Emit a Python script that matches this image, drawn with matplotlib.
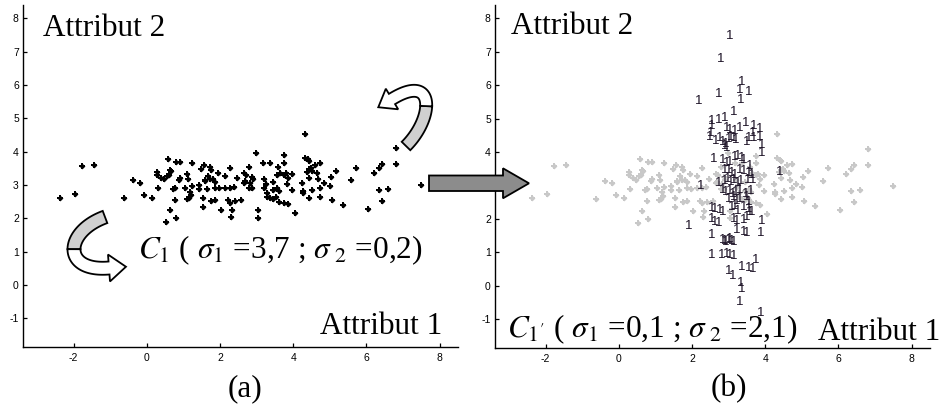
import numpy as np
import matplotlib
matplotlib.use("Agg")
import matplotlib.pyplot as plt
from matplotlib.patches import Polygon
from matplotlib.transforms import IdentityTransform

plt.rcParams['axes.unicode_minus'] = False
plt.rcParams['mathtext.fontset'] = 'stix'
plt.rcParams['font.family'] = ['Liberation Sans', 'DejaVu Sans']

# ====== dados: classe C1 (a) ======
x_c1 = [-2.38, -1.97, -1.77, -1.43, -0.62, -0.38, -0.18, -0.07, 0.14,
        0.28, 0.28, 0.31, 0.40, 0.46, 0.52, 0.55, 0.58, 0.61, 0.64, 0.64, 0.66, 0.71, 0.78, 0.78, 0.80, 0.81, 0.87, 0.90, 0.92,
        1.05, 1.10, 1.10, 1.13, 1.14, 1.19, 1.22, 1.23, 1.23, 1.42, 1.42, 1.49, 1.54, 1.54, 1.55, 1.58, 1.60, 1.64, 1.67, 1.73,
        1.73, 1.76, 1.76, 1.81, 1.87, 1.87, 1.87, 1.95, 1.96,
        2.04, 2.13, 2.15, 2.23, 2.26, 2.26, 2.28, 2.31, 2.33, 2.39, 2.40, 2.46, 2.57, 2.65, 2.65, 2.69, 2.72, 2.78, 2.80, 2.83,
        2.87, 2.87, 2.90, 2.99,
        3.04, 3.04, 3.17, 3.19, 3.19, 3.27, 3.28, 3.28, 3.36, 3.37, 3.46, 3.46, 3.46, 3.54, 3.56, 3.56, 3.58, 3.60, 3.60, 3.63,
        3.74, 3.76, 3.76, 3.76, 3.81, 3.83, 3.85, 3.86, 3.97, 3.98,
        4.06, 4.24, 4.26, 4.28, 4.33, 4.33, 4.38, 4.39, 4.42, 4.42, 4.42, 4.42, 4.49, 4.51, 4.51, 4.60, 4.65, 4.67, 4.72, 4.74,
        4.74, 4.83,
        5.01, 5.04, 5.06, 5.18, 5.36, 5.59, 5.72, 6.03, 6.20, 6.33, 6.35, 6.43, 6.43, 6.59, 6.82, 6.82, 7.50]
y_c1 = [2.62, 2.74, 3.58, 3.61, 2.61, 3.15, 3.07, 2.71, 2.62,
        3.40, 3.30, 2.91, 3.22, 3.17, 1.89, 3.27, 3.78, 3.30, 3.45, 2.25, 3.42, 2.87, 2.90, 2.55, 2.01, 3.69, 3.15, 3.70, 3.20,
        2.92, 3.32, 2.57, 3.17, 2.60, 2.80, 2.70, 2.97, 3.67, 3.00, 2.87, 3.48, 2.62, 2.35, 3.61, 3.15, 3.12, 2.87, 3.27, 3.55,
        3.17, 3.45, 2.52, 3.17, 3.10, 2.92, 2.55, 3.35, 2.90,
        2.25, 2.92, 3.27, 2.55, 2.92, 2.47, 3.52, 2.05, 2.25, 2.95, 2.52, 3.20, 2.55, 3.35, 3.07, 3.12, 3.30, 2.90, 3.55, 3.05,
        3.25, 2.90, 3.17, 3.97,
        2.25, 2.02, 3.67, 3.17, 2.92, 3.03, 2.77, 2.65, 2.60, 3.67, 3.10, 2.85, 2.57, 2.63, 3.30, 2.90, 3.55, 2.82, 2.50, 3.37,
        3.89, 3.67, 3.30, 2.47, 3.35, 3.02, 3.20, 2.43, 2.85, 3.32,
        2.15, 3.05, 2.75, 2.82, 4.54, 3.82, 3.40, 3.77, 3.73, 3.47, 3.22, 2.60, 3.50, 3.43, 2.85, 3.60, 3.37, 3.17, 3.65, 2.92,
        2.65, 3.05,
        2.97, 3.25, 2.55, 3.43, 2.40, 3.15, 3.52, 2.28, 3.35, 3.50, 2.85, 3.62, 2.52, 2.88, 4.10, 3.62, 3.00]

# ====== dados: classe C1' (b) ======
x_c1p = [3.02, 2.78, 2.19, 2.74, 3.36, 3.29, 3.56, 3.34, 3.13,
         2.55, 2.74, 2.90, 2.53, 2.51, 2.49, 2.94, 3.02, 3.17, 3.29, 3.47, 3.69, 3.86, 3.66, 3.86, 3.90, 3.90,
         2.65, 2.76, 2.85, 2.88, 2.93, 2.96, 3.00, 3.05, 3.14, 3.20, 3.49, 3.54, 3.69,
         2.58, 2.85, 2.95, 3.04, 3.17, 3.26, 3.36, 3.40, 3.58, 4.40,
         2.90, 2.99, 3.08, 3.17, 3.31, 3.40, 3.54, 3.63,
         2.88, 2.97, 3.06, 3.15, 3.24, 3.33, 3.52, 3.66,
         2.23, 2.72, 2.84, 2.93, 3.02, 3.11, 3.20, 3.29, 3.47, 3.61,
         2.99, 3.13, 3.22, 3.31, 3.49, 3.54,
         3.08, 3.17, 3.26, 3.40, 3.54, 3.63,
         2.53, 2.62, 2.76, 2.84, 3.58,
         2.53, 2.62, 2.73, 3.13, 3.23, 3.40, 3.49, 3.90,
         1.90, 3.22, 3.40, 3.49, 3.88, 2.53,
         2.83, 2.88, 2.93, 2.99, 3.04, 3.08, 3.13,
         2.53, 2.81, 2.95, 3.02, 3.13, 3.75,
         3.36, 3.54, 3.66, 2.99, 3.11,
         3.33, 3.36, 3.29, 3.87]
y_c1p = [7.47, 6.77, 5.52, 5.75, 6.09, 5.87, 5.79, 5.57, 5.19,
         4.92, 4.97, 5.02, 4.77, 4.57, 4.44, 4.72, 4.67, 4.62, 4.72, 4.87, 4.77, 4.69, 4.56, 4.46, 4.22, 3.97,
         4.32, 4.42, 4.30, 4.18, 4.25, 4.12, 4.38, 4.45, 4.41, 4.36, 4.30, 4.41, 4.41,
         3.78, 3.76, 3.66, 3.71, 3.86, 3.88, 3.81, 3.76, 3.57, 3.40,
         3.47, 3.47, 3.37, 3.32, 3.47, 3.42, 3.37, 3.32,
         3.15, 3.20, 3.12, 3.17, 3.08, 3.13, 3.18, 3.17,
         3.00, 3.07, 2.88, 2.80, 2.85, 2.76, 2.82, 2.86, 2.76, 2.83,
         2.60, 2.65, 2.55, 2.60, 2.65, 2.50,
         2.35, 2.40, 2.25, 2.35, 2.30, 2.20,
         2.32, 2.29, 2.27, 2.22, 2.22,
         2.00, 1.90, 1.87, 2.00, 1.94, 1.97, 2.07, 1.94,
         1.78, 1.67, 1.62, 1.57, 1.57, 1.52,
         1.36, 1.33, 1.30, 1.36, 1.40, 1.34, 1.30,
         0.93, 0.91, 0.96, 0.93, 0.89, 0.77,
         0.57, 0.52, 0.50, 0.45, 0.30,
         0.08, -0.10, -0.48, -0.82]

xticks = [-2, 0, 2, 4, 6, 8]
yticks = [-1, 0, 1, 2, 3, 4, 5, 6, 7, 8]
label_a = r"$C_1$ ( $\sigma_1$ =3,7 ; $\sigma_{\ 2}$ =0,2)"
label_b = r"$C_{1'}$ ( $\sigma_1$ =0,1 ; $\sigma_{\ 2}$ =2,1)"

# ====== figura ======
W, H = 940, 408
fig = plt.figure(figsize=(W / 100, H / 100), dpi=100)
ax_a = fig.add_axes([23 / W, 1 - 347 / H, 435 / W, 342 / H])
ax_b = fig.add_axes([495 / W, 1 - 348 / H, 435 / W, 343 / H])

for ax in (ax_a, ax_b):
    ax.set_xlim(-3.38, 8.5)
    ax.set_ylim(-1.86, 8.4)
    ax.set_xticks(xticks)
    ax.set_yticks(yticks)
    for s in ("top", "right"):
        ax.spines[s].set_visible(False)
    for s in ("left", "bottom"):
        ax.spines[s].set_linewidth(1.0)
    ax.tick_params(direction="in", length=3, width=0.9, labelsize=7.5)
    ax.tick_params(axis="x", pad=4.5)
    ax.tick_params(axis="y", pad=3)

# pontos em forma de pequena estrela (losango + cruz)
for mk, ms in (("D", 3.0), ("P", 4.0)):
    ax_a.plot(x_c1, y_c1, ls="none", marker=mk, ms=ms, mew=0, color="black")
    ax_b.plot(x_c1, y_c1, ls="none", marker=mk, ms=ms, mew=0, color="#c8c8c8")
for x, y in zip(x_c1p, y_c1p):
    ax_b.text(x, y, "1", ha="center", va="center", fontsize=9.5, color="#1c1226")

# ====== textos ======
serif = dict(family=["Liberation Serif", "DejaVu Serif"], fontsize=22.5, color="black")


def ptxt(x, y, s, **kw):
    fig.text(x / W, 1 - y / H, s, va="baseline", **kw)


ptxt(43, 36, "Attribut 2", **serif)
ptxt(320, 334.5, "Attribut 1", **serif)
ptxt(138, 258.5, label_a, **serif)
ptxt(245, 396.5, "(a)", ha="center", **serif)

ptxt(511, 33.5, "Attribut 2", **serif)
ptxt(818, 339.5, "Attribut 1", **serif)
ptxt(507, 337.5, label_b, **serif)
ptxt(729, 396.5, "(b)", ha="center", **serif)


# ====== setas ======
def pix(pts):
    pts = np.asarray(pts, float)
    return np.column_stack([pts[:, 0], H - pts[:, 1]])


def add_poly(pts, fc):
    fig.add_artist(Polygon(pix(pts), closed=True, fc=fc, ec="black", lw=1.3,
                           transform=IdentityTransform(), zorder=3))


def curved_arrow(ctrl, split, width, head_w, head_l):
    P = [np.array(p, float) for p in ctrl]
    t = np.linspace(0, 1, 80)[:, None]
    c = (1 - t) ** 3 * P[0] + 3 * (1 - t) ** 2 * t * P[1] + 3 * (1 - t) * t ** 2 * P[2] + t ** 3 * P[3]
    d = np.gradient(c, axis=0)
    n = np.column_stack([-d[:, 1], d[:, 0]])
    n /= np.linalg.norm(n, axis=1)[:, None]
    left, right = c + n * width / 2, c - n * width / 2
    k = int(split * (len(t) - 1))
    add_poly(np.vstack([left[:k + 1], right[:k + 1][::-1]]), "#d0d0d0")
    tang = d[-1] / np.linalg.norm(d[-1])
    tip = c[-1] + tang * head_l
    head = [c[-1] + n[-1] * head_w / 2, tip, c[-1] - n[-1] * head_w / 2]
    add_poly(np.vstack([left[k:], head, right[k:][::-1]]), "white")


curved_arrow([(406, 146), (434, 118), (436, 72), (392, 99)], 0.45, 12, 24, 16)
curved_arrow([(105, 217), (64, 232), (62, 272), (109, 268)], 0.5, 13, 27, 17)

add_poly([(429, 175.5), (503, 175.5), (503, 168.3), (529, 183.3),
          (503, 198.3), (503, 191), (429, 191)], "#8c8c8c")

fig.savefig("out.png", dpi=100)
